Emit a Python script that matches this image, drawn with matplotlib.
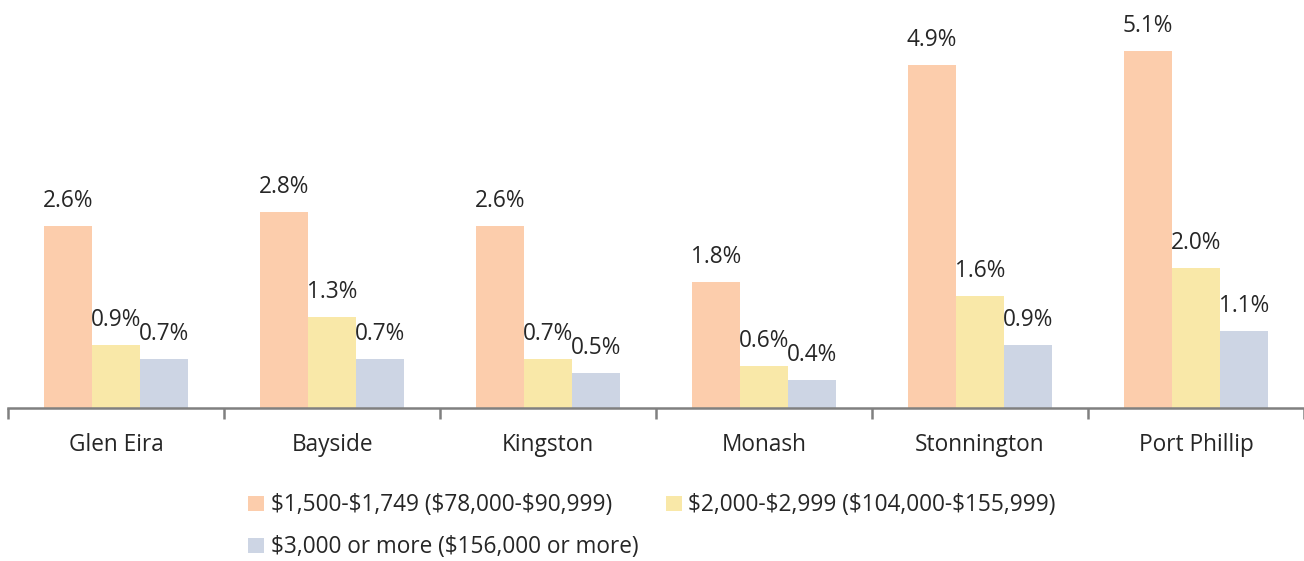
import numpy as np
import matplotlib.pyplot as plt

plt.rcParams['font.family'] = ['Open Sans', 'DejaVu Sans']

# data
councils = ["Glen Eira", "Bayside", "Kingston", "Monash", "Stonnington", "Port Phillip"]
band_low = [2.6, 2.8, 2.6, 1.8, 4.9, 5.1]
band_mid = [0.9, 1.3, 0.7, 0.6, 1.6, 2.0]
band_high = [0.7, 0.7, 0.5, 0.4, 0.9, 1.1]
series_names = ["$1,500-$1,749 ($78,000-$90,999)",
                "$2,000-$2,999 ($104,000-$155,999)",
                "$3,000 or more ($156,000 or more)"]
colors = ["#FCCDAC", "#F9E8A8", "#CDD5E4"]

txt_color = "#262626"
fs = 16.3

fig = plt.figure(figsize=(13.04, 5.61), dpi=100)
ax = fig.add_axes([8 / 1304, 153 / 561, 1296 / 1304, 408 / 561])

x = np.arange(len(councils))
w = 0.222
bars = []
for i, vals in enumerate([band_low, band_mid, band_high]):
    b = ax.bar(x + (i - 1) * w, vals, width=w, color=colors[i],
               label=series_names[i].replace("$", r"\$"))
    bars.append(b)
    for rect, v in zip(b, vals):
        ax.text(rect.get_x() + rect.get_width() / 2, v + 0.19, f"{v:.1f}%",
                ha="center", va="bottom", fontsize=fs, color=txt_color)

ax.set_xlim(-0.5, len(councils) - 0.5)
ax.set_ylim(0, 408 / 70)
ax.set_yticks([])
for s in ["top", "right", "left"]:
    ax.spines[s].set_visible(False)
ax.spines["bottom"].set_color("#808080")
ax.spines["bottom"].set_linewidth(1.8)

# separators between categories
ax.set_xticks(np.arange(-0.5, len(councils), 1.0))
ax.set_xticklabels([])
ax.tick_params(axis="x", length=8, width=1.8, color="#808080")
ax.set_xticks(x, minor=True)
ax.set_xticklabels(councils, minor=True)
ax.tick_params(axis="x", which="minor", length=0, pad=18, labelsize=fs, labelcolor=txt_color)

# order so that row 1 holds the first two series, row 2 the third
handles = [bars[0], bars[2], bars[1]]
labels = [h.get_label() for h in handles]
leg = fig.legend(handles, labels, ncol=2, loc="upper left", bbox_to_anchor=(228 / 1304, 1 - 473 / 561),
                 frameon=False, fontsize=fs, handlelength=0.7, handleheight=0.7,
                 handletextpad=0.3, columnspacing=1.2, labelspacing=0.8, labelcolor=txt_color)

fig.savefig("out.png", dpi=100)
